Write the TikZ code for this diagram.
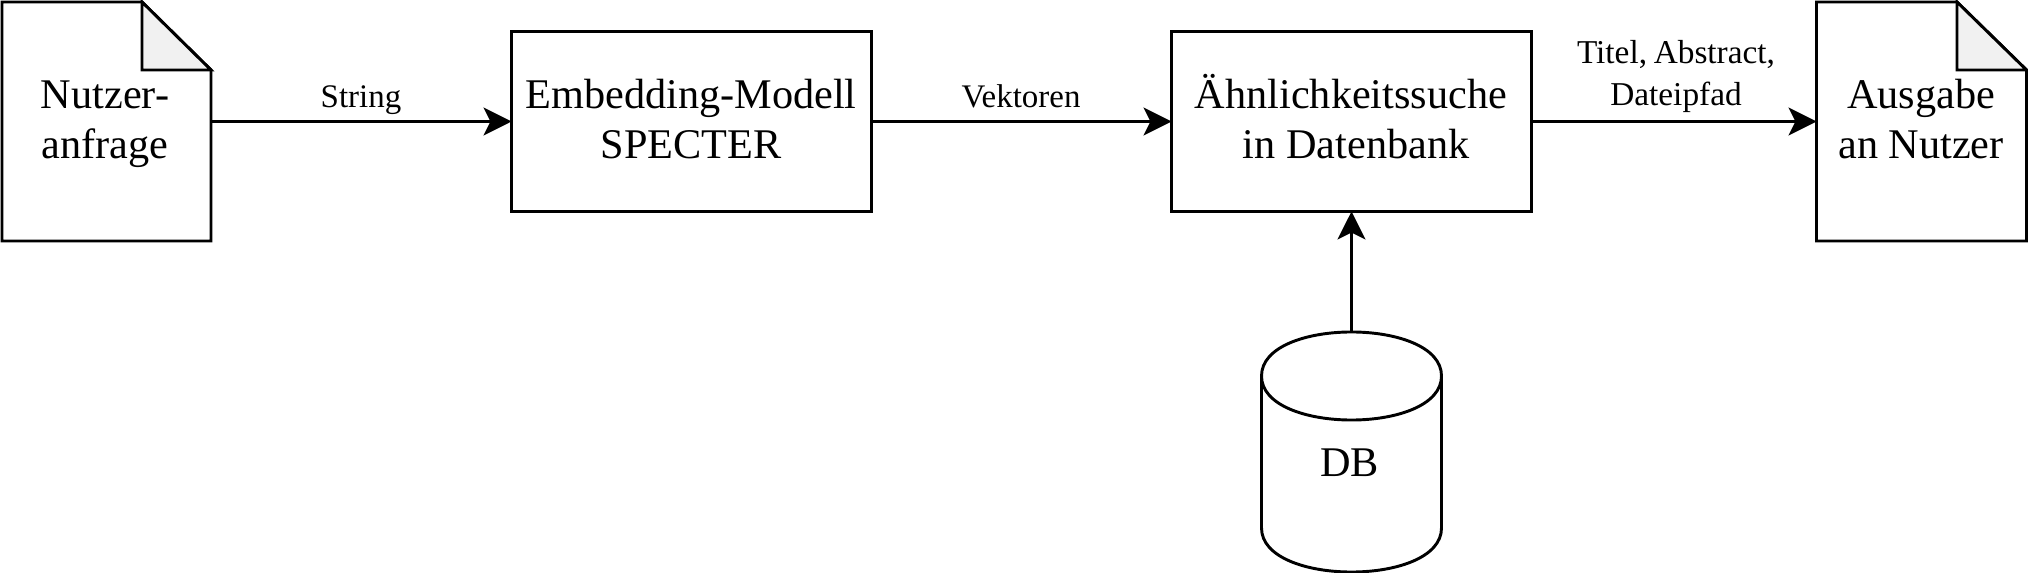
\documentclass[tikz,border=0pt]{standalone}
\usepackage{fontspec}
\setmainfont{Liberation Serif}
\usetikzlibrary{arrows.meta}
\tikzset{
  x=0.75pt,y=-0.75pt,
  stroke/.style={draw=black,line width=2.2pt,line join=miter},
  procbox/.style={stroke,shape=rectangle,minimum width=270pt,minimum height=135pt,outer sep=0pt,inner sep=0pt},
  anchorbox/.style={shape=rectangle,outer sep=0pt,inner sep=0pt},
  big/.style={font=\fontsize{31.7}{37.5}\selectfont,align=center,anchor=base,inner sep=0pt},
  small/.style={font=\fontsize{24.7}{31.5}\selectfont,align=center,anchor=base,inner sep=0pt},
  arr/.style={draw=black,line width=2.2pt,-{Stealth[length=21pt,width=21pt,inset=5.2pt]}},
}
\definecolor{foldgrey}{HTML}{F1F1F1}
\begin{document}
\begin{tikzpicture}
\useasboundingbox (0,0) rectangle (2028,573);
% document 1
\draw[stroke,fill=white] (2,2) -- (142,2) -- (211,70) -- (211,241) -- (2,241) -- cycle;
\draw[stroke,fill=foldgrey] (142,2) -- (142,70) -- (211,70) -- cycle;
\node[anchorbox,minimum width=156.75pt,minimum height=179.25pt] (doc1) at (106.5,121.5) {};
\node[big] (doc1text) at (105,159) {Nutzer-\\anfrage};
% boxes
\node[procbox] (box1) at (691.5,121.5) {};
\node[big] (box1text) at (691,159) {Embedding-Modell\\SPECTER};
\node[procbox] (box2) at (1351.5,121.5) {};
\node[big] (box2text) at (1351,159) {Ähnlichkeitssuche\\\hspace*{0.24em}in Datenbank};
% document 2
\draw[stroke,fill=white] (1816.5,2) -- (1957,2) -- (2026.5,70) -- (2026.5,241) -- (1816.5,241) -- cycle;
\draw[stroke,fill=foldgrey] (1957,2) -- (1957,70) -- (2026.5,70) -- cycle;
\node[anchorbox,minimum width=157.5pt,minimum height=179.25pt] (doc2) at (1921.5,121.5) {};
\node[big] (doc2text) at (1921,159) {Ausgabe\\an Nutzer};
% database
\draw[stroke,fill=white] (1261.5,376) .. controls (1261.5,317.3) and (1441.5,317.3) .. (1441.5,376)
  -- (1441.5,528) .. controls (1441.5,586.7) and (1261.5,586.7) .. (1261.5,528) -- cycle;
\draw[stroke] (1261.5,376) .. controls (1261.5,434.7) and (1441.5,434.7) .. (1441.5,376);
\node[anchorbox,minimum width=135pt,minimum height=180pt] (db) at (1351.5,452) {};
\node[big] (dbtext) at (1349.5,476) {DB};
% connectors
\draw[arr] (doc1.east) -- (box1.west);
\draw[arr] (box1.east) -- (box2.west);
\draw[arr] (box2.east) -- (doc2.west);
\draw[arr] (db.north) -- (box2.south);
% labels
\node[small] (l1) at (361,108) {String};
\node[small] (l2) at (1021,108) {Vektoren};
\node[small,font=\fontsize{25}{31.5}\selectfont] (l3) at (1676,106) {Titel,\hspace{-0.05em} Abstract,\\Dateipfad};
\end{tikzpicture}
\end{document}
